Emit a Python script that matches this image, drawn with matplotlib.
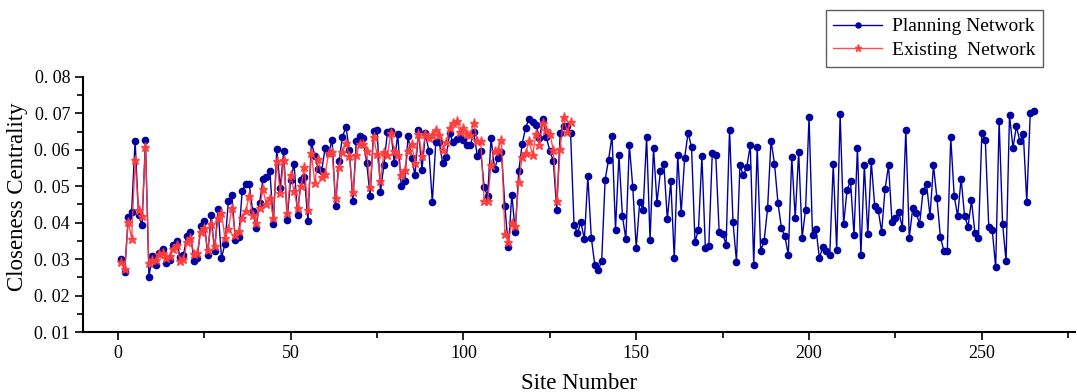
import numpy as np
import matplotlib
matplotlib.use('Agg')
import matplotlib.pyplot as plt
from matplotlib.ticker import MultipleLocator, FuncFormatter

plt.rcParams['font.family'] = ['Liberation Serif', 'DejaVu Serif']

# =========================================================================
# closeness centrality per site
planning = [
    0.0299, 0.0265, 0.0415, 0.0429, 0.0625, 0.0420, 0.0393, 0.0626, 0.0252, 0.0308,
    0.0283, 0.0316, 0.0328, 0.0290, 0.0297, 0.0338, 0.0350, 0.0305, 0.0311, 0.0364,
    0.0375, 0.0295, 0.0303, 0.0390, 0.0405, 0.0312, 0.0421, 0.0322, 0.0438, 0.0303,
    0.0342, 0.0459, 0.0475, 0.0352, 0.0362, 0.0488, 0.0505, 0.0506, 0.0433, 0.0385,
    0.0453, 0.0520, 0.0524, 0.0542, 0.0396, 0.0603, 0.0495, 0.0597, 0.0408, 0.0518,
    0.0561, 0.0422, 0.0518, 0.0525, 0.0405, 0.0620, 0.0584, 0.0547, 0.0543, 0.0606,
    0.0590, 0.0628, 0.0447, 0.0570, 0.0635, 0.0663, 0.0599, 0.0459, 0.0623, 0.0639,
    0.0632, 0.0565, 0.0473, 0.0651, 0.0654, 0.0485, 0.0559, 0.0648, 0.0652, 0.0564,
    0.0643, 0.0500, 0.0514, 0.0638, 0.0577, 0.0530, 0.0653, 0.0545, 0.0645, 0.0597,
    0.0457, 0.0620, 0.0620, 0.0564, 0.0580, 0.0645, 0.0620, 0.0630, 0.0635, 0.0626,
    0.0614, 0.0612, 0.0648, 0.0584, 0.0597, 0.0497, 0.0473, 0.0632, 0.0548, 0.0577,
    0.0594, 0.0445, 0.0332, 0.0477, 0.0375, 0.0541, 0.0616, 0.0661, 0.0685, 0.0677,
    0.0668, 0.0632, 0.0684, 0.0634, 0.0597, 0.0570, 0.0436, 0.0647, 0.0665, 0.0665,
    0.0647, 0.0394, 0.0372, 0.0401, 0.0354, 0.0527, 0.0359, 0.0285, 0.0270, 0.0294,
    0.0518, 0.0573, 0.0639, 0.0381, 0.0585, 0.0418, 0.0354, 0.0614, 0.0497, 0.0330,
    0.0457, 0.0436, 0.0635, 0.0352, 0.0605, 0.0454, 0.0541, 0.0560, 0.0409, 0.0513,
    0.0302, 0.0586, 0.0427, 0.0577, 0.0647, 0.0607, 0.0348, 0.0379, 0.0582, 0.0331,
    0.0337, 0.0590, 0.0586, 0.0373, 0.0370, 0.0340, 0.0655, 0.0402, 0.0293, 0.0557,
    0.0530, 0.0553, 0.0612, 0.0285, 0.0608, 0.0323, 0.0349, 0.0439, 0.0625, 0.0562,
    0.0455, 0.0386, 0.0363, 0.0312, 0.0580, 0.0413, 0.0594, 0.0359, 0.0436, 0.0690,
    0.0366, 0.0383, 0.0303, 0.0334, 0.0323, 0.0312, 0.0561, 0.0325, 0.0697, 0.0395,
    0.0490, 0.0514, 0.0366, 0.0605, 0.0312, 0.0557, 0.0368, 0.0568, 0.0445, 0.0435,
    0.0375, 0.0493, 0.0557, 0.0403, 0.0412, 0.0429, 0.0386, 0.0655, 0.0358, 0.0440,
    0.0427, 0.0397, 0.0488, 0.0505, 0.0418, 0.0557, 0.0468, 0.0361, 0.0323, 0.0323,
    0.0634, 0.0473, 0.0418, 0.0521, 0.0418, 0.0389, 0.0461, 0.0371, 0.0357, 0.0646,
    0.0627, 0.0388, 0.0381, 0.0277, 0.0679, 0.0397, 0.0295, 0.0695, 0.0606, 0.0664,
    0.0623, 0.0643, 0.0456, 0.0700, 0.0706,
]

existing = [
    0.0291, 0.0272, 0.0403, 0.0356, 0.0572, 0.0435, 0.0418, 0.0607, 0.0288, 0.0298,
    0.0297, 0.0314, 0.0318, 0.0303, 0.0309, 0.0327, 0.0338, 0.0295, 0.0299, 0.0346,
    0.0359, 0.0314, 0.0318, 0.0373, 0.0384, 0.0325, 0.0395, 0.0336, 0.0412, 0.0426,
    0.0357, 0.0382, 0.0441, 0.0367, 0.0377, 0.0414, 0.0431, 0.0473, 0.0421, 0.0400,
    0.0441, 0.0491, 0.0450, 0.0468, 0.0414, 0.0570, 0.0481, 0.0573, 0.0427, 0.0532,
    0.0486, 0.0441, 0.0500, 0.0552, 0.0435, 0.0591, 0.0509, 0.0575, 0.0526, 0.0534,
    0.0591, 0.0595, 0.0468, 0.0552, 0.0593, 0.0618, 0.0582, 0.0484, 0.0586, 0.0616,
    0.0617, 0.0597, 0.0497, 0.0634, 0.0588, 0.0515, 0.0595, 0.0586, 0.0645, 0.0597,
    0.0586, 0.0532, 0.0545, 0.0597, 0.0616, 0.0565, 0.0643, 0.0582, 0.0643, 0.0632,
    0.0641, 0.0655, 0.0641, 0.0598, 0.0620, 0.0659, 0.0673, 0.0679, 0.0648, 0.0659,
    0.0643, 0.0641, 0.0673, 0.0623, 0.0625, 0.0459, 0.0459, 0.0559, 0.0597, 0.0600,
    0.0627, 0.0368, 0.0347, 0.0400, 0.0391, 0.0512, 0.0580, 0.0591, 0.0623, 0.0586,
    0.0643, 0.0614, 0.0673, 0.0655, 0.0643, 0.0600, 0.0460, 0.0601, 0.0691, 0.0648,
    0.0675,
]

sitesPlanning = np.arange(1, len(planning) + 1)
sitesExisting = np.arange(1, len(existing) + 1)

# =========================================================================
fig = plt.figure(figsize=(10.77, 3.92), dpi=100)
axes = fig.add_axes([0.0773, 0.153, 0.921, 0.651])

axes.plot(sitesPlanning, planning, color='#0000a0', linewidth=1.0,
          marker='o', markersize=4.5, label='Planning Network', zorder=2)
axes.plot(sitesExisting, existing, color='#ff3b3b', linewidth=1.0, alpha=0.9,
          marker='*', markersize=6.5, label='Existing  Network', zorder=3)

axes.set_xlim(-10, 277)
axes.set_ylim(0.01, 0.08)
axes.xaxis.set_major_locator(MultipleLocator(50))
axes.xaxis.set_minor_locator(MultipleLocator(25))
axes.yaxis.set_major_locator(MultipleLocator(0.01))
axes.yaxis.set_minor_locator(MultipleLocator(0.005))
axes.yaxis.set_major_formatter(FuncFormatter(lambda v, p: '{:.2f}'.format(v).replace('.', '. ')))
axes.tick_params(which='both', direction='out', width=1.2, labelsize=13)
axes.tick_params(which='major', length=6)
axes.tick_params(which='minor', length=4)

axes.spines['top'].set_visible(False)
axes.spines['right'].set_visible(False)
axes.spines['left'].set_linewidth(1.5)
axes.spines['bottom'].set_linewidth(1.5)

axes.set_ylabel('Closeness Centrality', fontsize=16.5)
axes.set_xlabel('Site Number', fontsize=16.5)
axes.yaxis.set_label_coords(-0.056, 0.53)
axes.xaxis.set_label_coords(0.5, -0.16)

leg = fig.legend(loc='upper right', bbox_to_anchor=(1043 / 1077, 1 - 10 / 392),
                 borderaxespad=0, fontsize=14, frameon=True, fancybox=False,
                 handlelength=2.5, borderpad=0.4, labelspacing=0.3, handletextpad=0.5,
                 numpoints=1, markerscale=0.8)
leg.get_frame().set_edgecolor('#333333')
leg.get_frame().set_linewidth(1.0)

plt.savefig('out.png', dpi=100)
plt.close()
